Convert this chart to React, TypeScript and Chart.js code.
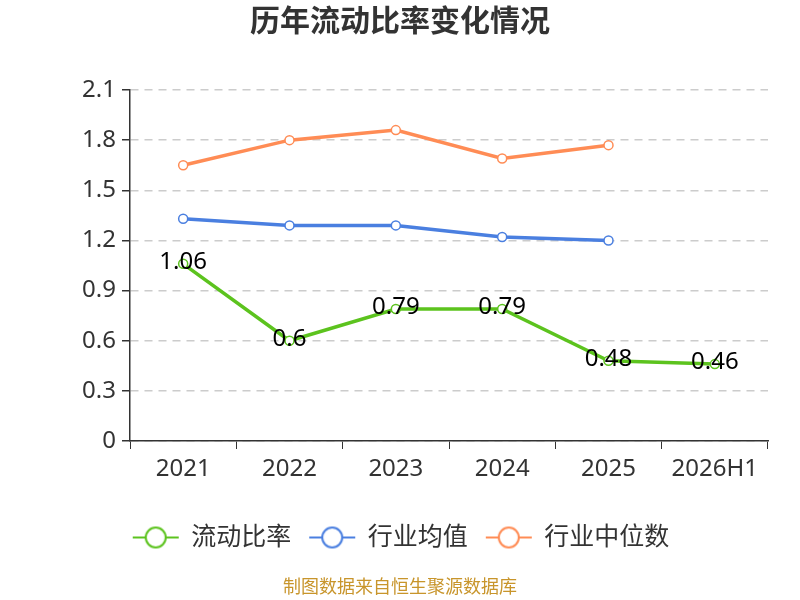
import React, { useEffect, useRef } from "react";
import { Chart, registerables, Plugin } from "chart.js";

Chart.register(...registerables);

const categories = ["2021", "2022", "2023", "2024", "2025", "2026H1"];
const currentRatio = [1.06, 0.6, 0.79, 0.79, 0.48, 0.46];
const industryAvg = [1.33, 1.29, 1.29, 1.22, 1.2, null];
const industryMedian = [1.65, 1.8, 1.86, 1.69, 1.77, null];
const yTicks = [0, 0.3, 0.6, 0.9, 1.2, 1.5, 1.8, 2.1];
const yTickLabels = ["0", "0.3", "0.6", "0.9", "1.2", "1.5", "1.8", "2.1"];

const seriesNames = ["流动比率", "行业均值", "行业中位数"];
const seriesColors = ["#5cc31e", "#4a7fe0", "#ff8c55"];

const FONT = "'Noto Sans', 'Noto Sans CJK SC', sans-serif";

// legend icon: short line with a hollow circle in the middle
function legendIcon(color: string): HTMLCanvasElement {
  const c = document.createElement("canvas");
  c.width = 48;
  c.height = 24;
  const ctx = c.getContext("2d")!;
  ctx.strokeStyle = color;
  ctx.lineWidth = 2;
  ctx.beginPath();
  ctx.moveTo(1, 12);
  ctx.lineTo(47, 12);
  ctx.stroke();
  ctx.beginPath();
  ctx.arc(24, 12, 10, 0, Math.PI * 2);
  ctx.fillStyle = "#fff";
  ctx.fill();
  ctx.stroke();
  return c;
}

const extrasPlugin: Plugin<"line"> = {
  id: "extras",
  afterDatasetsDraw(chart) {
    const ctx = chart.ctx;
    const meta = chart.getDatasetMeta(0);
    ctx.save();
    ctx.font = `24px ${FONT}`;
    ctx.fillStyle = "#000";
    ctx.textAlign = "center";
    ctx.textBaseline = "middle";
    meta.data.forEach((pt, i) => {
      ctx.fillText(String(currentRatio[i]), pt.x, pt.y - 2);
    });
    ctx.restore();
  },
  afterDraw(chart) {
    const ctx = chart.ctx;
    ctx.save();
    ctx.textAlign = "center";
    ctx.textBaseline = "middle";
    ctx.fillStyle = "#333";
    ctx.font = `bold 30px ${FONT}`;
    ctx.fillText("历年流动比率变化情况", 400, 22);
    ctx.fillStyle = "#c8952b";
    ctx.font = `18px ${FONT}`;
    ctx.fillText("制图数据来自恒生聚源数据库", 400, 588);
    ctx.restore();
  },
};

const App: React.FC = () => {
  const canvasRef = useRef<HTMLCanvasElement>(null);
  const chartRef = useRef<Chart | null>(null);

  useEffect(() => {
    document.body.style.margin = "0";
    if (!canvasRef.current) return;
    const ctx = canvasRef.current.getContext("2d");
    if (!ctx) return;

    const series = [currentRatio, industryAvg, industryMedian];

    chartRef.current = new Chart(ctx, {
      type: "line",
      data: {
        labels: categories,
        datasets: series.map((values, i) => ({
          label: seriesNames[i],
          data: values,
          borderColor: seriesColors[i],
          backgroundColor: "#fff",
          borderWidth: 3.5,
          pointRadius: 4.5,
          pointBorderWidth: 1.5,
          pointBackgroundColor: "#fff",
          pointBorderColor: seriesColors[i],
          tension: 0,
          fill: false,
        })),
      },
      options: {
        animation: false,
        responsive: true,
        maintainAspectRatio: false,
        layout: { padding: { top: 90, right: 32, bottom: 40, left: 34 } },
        plugins: {
          title: { display: false },
          tooltip: { enabled: false },
          legend: {
            display: true,
            position: "bottom",
            labels: {
              usePointStyle: true,
              pointStyleWidth: 46,
              boxHeight: 22,
              padding: 18,
              color: "#333",
              font: { size: 25, family: FONT },
              generateLabels: (chart) =>
                chart.data.datasets.map((ds, i) => ({
                  text: ds.label as string,
                  pointStyle: legendIcon(seriesColors[i]),
                  fillStyle: "#fff",
                  strokeStyle: seriesColors[i],
                  lineWidth: 0,
                  datasetIndex: i,
                  hidden: false,
                  fontColor: "#333",
                })),
            },
          },
        },
        scales: {
          x: {
            offset: true,
            grid: {
              offset: true,
              drawOnChartArea: false,
              color: "transparent",
              tickColor: "#333",
              tickLength: 8,
            },
            border: { color: "#333", width: 1.5 },
            ticks: {
              color: "#333",
              padding: 6,
              font: { size: 24, family: FONT },
            },
            afterFit: (scale) => {
              scale.height = 66;
            },
          },
          y: {
            min: 0,
            max: 2.1,
            afterBuildTicks: (scale) => {
              scale.ticks = yTicks.map((v) => ({ value: v }));
            },
            grid: {
              color: "#cccccc",
              lineWidth: 1.5,
              tickColor: "#333",
              tickLength: 8,
              tickBorderDash: [],
            },
            border: { color: "#333", width: 1.5, dash: [8, 6] },
            ticks: {
              color: "#333",
              padding: 6,
              font: { size: 24, family: FONT },
              callback: (_v, i) => yTickLabels[i],
            },
            afterFit: (scale) => {
              scale.width = 96;
            },
          },
        },
      },
      plugins: [extrasPlugin],
    });

    return () => {
      chartRef.current?.destroy();
      chartRef.current = null;
    };
  }, []);

  return (
    <div style={{ width: 800, height: 600 }}>
      <canvas ref={canvasRef} />
    </div>
  );
};

export default App;
